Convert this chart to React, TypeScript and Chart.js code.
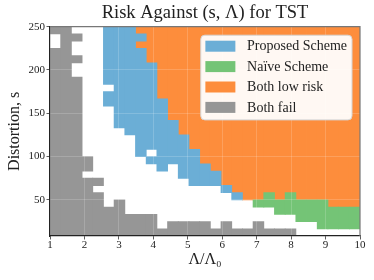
import React, { useEffect, useRef } from "react";
import { Chart, registerables } from "chart.js";

Chart.register(...registerables);

const FONT = "'Liberation Serif', 'DejaVu Serif', serif";

// Outcome classes (white cells = none of these)
const categoryKeys = ["B", "N", "O", "G"];
const categoryLabels = ["Proposed Scheme", "Naïve Scheme", "Both low risk", "Both fail"];
const categoryColors = ["#6baed6", "#74c476", "#fd8d3c", "#969696"];

// Span of the evaluated grid
const lambdaSpan = [1, 10];
const distortionSpan = [8, 250];

// Tick labels
const xTickValues = [1, 2, 3, 4, 5, 6, 7, 8, 9, 10];
const yTickValues = [50, 100, 150, 200, 250];

const titleText = "Risk Against (s, Λ) for TST";
const xTitleText = "Λ/Λ₀";
const yTitleText = "Distortion, s";

// Outcome per grid row (top row = highest distortion), run-length encoded over the Λ columns
const riskRows: [string, number][][] = [
  [["G", 2], ["W", 3], ["B", 3], ["O", 21]],
  [["W", 1], ["G", 2], ["W", 2], ["B", 4], ["O", 20]],
  [["W", 1], ["G", 1], ["W", 3], ["B", 3], ["O", 21]],
  [["G", 2], ["W", 3], ["B", 4], ["O", 20]],
  [["G", 3], ["W", 2], ["B", 4], ["O", 20]],
  [["G", 2], ["W", 3], ["B", 5], ["O", 19]],
  [["G", 2], ["W", 3], ["B", 5], ["O", 19]],
  [["G", 3], ["W", 2], ["B", 5], ["O", 19]],
  [["G", 3], ["W", 3], ["B", 4], ["O", 19]],
  [["G", 3], ["W", 2], ["B", 5], ["O", 19]],
  [["G", 3], ["W", 2], ["B", 6], ["O", 18]],
  [["G", 3], ["W", 3], ["B", 5], ["O", 18]],
  [["G", 3], ["W", 3], ["B", 5], ["O", 18]],
  [["G", 3], ["W", 3], ["B", 6], ["O", 17]],
  [["G", 3], ["W", 4], ["B", 5], ["O", 17]],
  [["G", 3], ["W", 5], ["B", 5], ["O", 16]],
  [["G", 3], ["W", 5], ["B", 5], ["O", 16]],
  [["G", 3], ["W", 5], ["B", 1], ["W", 1], ["B", 4], ["O", 15]],
  [["G", 4], ["W", 5], ["B", 5], ["O", 15]],
  [["G", 4], ["W", 6], ["B", 1], ["W", 1], ["B", 3], ["O", 14]],
  [["G", 3], ["W", 9], ["B", 4], ["O", 13]],
  [["G", 5], ["W", 8], ["B", 3], ["O", 13]],
  [["G", 4], ["W", 12], ["B", 1], ["O", 12]],
  [["G", 5], ["W", 12], ["B", 1], ["O", 2], ["N", 1], ["O", 1], ["N", 1], ["O", 6]],
  [["G", 5], ["W", 1], ["G", 1], ["W", 12], ["N", 7], ["O", 3]],
  [["G", 7], ["W", 14], ["N", 8]],
  [["G", 10], ["W", 13], ["N", 6]],
  [["G", 10], ["W", 1], ["G", 4], ["W", 1], ["G", 1], ["W", 2], ["G", 1], ["W", 5], ["N", 4]],
  [["G", 23], ["W", 6]],
];

function buildDatasets() {
  const grid = riskRows.map((runs) => runs.flatMap(([k, n]) => Array(n).fill(k)));
  const nRows = grid.length;
  const nCols = grid[0].length;
  const dx = (lambdaSpan[1] - lambdaSpan[0]) / nCols;
  const dy = (distortionSpan[1] - distortionSpan[0]) / nRows;
  const sTop = distortionSpan[1];
  return categoryKeys.map((key, i) => {
    const data: { x: number; y: [number, number] }[] = [];
    for (let c = 0; c < nCols; c++) {
      let r = 0;
      while (r < nRows) {
        if (grid[r][c] === key) {
          let r2 = r;
          while (r2 < nRows && grid[r2][c] === key) r2++;
          data.push({ x: lambdaSpan[0] + (c + 0.5) * dx, y: [sTop - r2 * dy, sTop - r * dy] });
          r = r2;
        } else r++;
      }
    }
    return {
      label: categoryLabels[i],
      data,
      backgroundColor: categoryColors[i],
      borderWidth: 0,
      grouped: false,
      barPercentage: 1,
      categoryPercentage: 1,
      inflateAmount: 0.4,
    };
  });
}

const framePlugin = {
  id: "frame",
  afterDraw(chart: any) {
    const { ctx, chartArea } = chart;
    ctx.save();
    ctx.strokeStyle = "#777";
    ctx.lineWidth = 1.2;
    ctx.beginPath();
    ctx.moveTo(chartArea.left, chartArea.top);
    ctx.lineTo(chartArea.right, chartArea.top);
    ctx.lineTo(chartArea.right, chartArea.bottom);
    ctx.stroke();
    ctx.restore();
  },
};

const boxLegendPlugin = {
  id: "boxLegend",
  afterDraw(chart: any) {
    const { ctx, chartArea } = chart;
    const items = chart.data.datasets;
    ctx.save();
    ctx.font = `14px ${FONT}`;
    const patchX = 4.6, patchW = 30, patchH = 11, textX = 46.3, rowH = 20.4, firstRow = 11;
    const textW = Math.max(...items.map((d: any) => ctx.measureText(d.label).width));
    const w = textX + textW + 5;
    const h = firstRow + rowH * (items.length - 1) + 12.5;
    const x0 = chartArea.right - 8 - w;
    const y0 = chartArea.top + 8.5;
    const rad = 4;
    ctx.beginPath();
    ctx.moveTo(x0 + rad, y0);
    ctx.lineTo(x0 + w - rad, y0);
    ctx.quadraticCurveTo(x0 + w, y0, x0 + w, y0 + rad);
    ctx.lineTo(x0 + w, y0 + h - rad);
    ctx.quadraticCurveTo(x0 + w, y0 + h, x0 + w - rad, y0 + h);
    ctx.lineTo(x0 + rad, y0 + h);
    ctx.quadraticCurveTo(x0, y0 + h, x0, y0 + h - rad);
    ctx.lineTo(x0, y0 + rad);
    ctx.quadraticCurveTo(x0, y0, x0 + rad, y0);
    ctx.closePath();
    ctx.fillStyle = "rgba(255,255,255,0.94)";
    ctx.fill();
    ctx.strokeStyle = "#d5d5d5";
    ctx.lineWidth = 1;
    ctx.stroke();
    ctx.textBaseline = "middle";
    ctx.textAlign = "left";
    items.forEach((d: any, i: number) => {
      const cy = y0 + firstRow + i * rowH;
      ctx.fillStyle = d.backgroundColor;
      ctx.fillRect(x0 + patchX, cy - patchH / 2, patchW, patchH);
      ctx.fillStyle = "#222";
      ctx.fillText(d.label, x0 + textX, cy + 0.5);
    });
    ctx.restore();
  },
};

export default function App() {
  const ref = useRef<HTMLCanvasElement | null>(null);
  useEffect(() => {
    if (!ref.current) return;
    const tickFont = { family: FONT, size: 11, lineHeight: 1.1 };
    const chart = new Chart(ref.current, {
      type: "bar",
      data: { datasets: buildDatasets() as any },
      options: {
        animation: false,
        responsive: false,
        devicePixelRatio: 1,
        layout: { padding: { left: 0, right: 14, top: 0, bottom: 0 } },
        plugins: {
          legend: { display: false },
          tooltip: { enabled: false },
          title: {
            display: true,
            text: titleText,
            fullSize: false,
            color: "#222",
            font: { family: FONT, size: 18.5, weight: "normal", lineHeight: 1.2 },
            padding: { top: 2, bottom: 2.5 },
          },
        },
        scales: {
          x: {
            type: "linear",
            min: lambdaSpan[0],
            max: lambdaSpan[1],
            offset: false,
            afterBuildTicks: (s: any) => {
              s.ticks = xTickValues.map((v) => ({ value: v }));
            },
            afterFit: (s: any) => {
              s.height = 44;
            },
            ticks: { font: tickFont, color: "#222", padding: 0, maxRotation: 0, autoSkip: false },
            grid: {
              offset: false,
              color: "rgba(255,255,255,0.22)",
              lineWidth: 0.8,
              tickColor: "#333",
              tickLength: 3.5,
              z: 1,
            },
            border: { color: "#222", width: 1.2, z: 2 },
            title: {
              display: true,
              text: xTitleText,
              color: "#222",
              font: { family: FONT, size: 16, lineHeight: 1.2 },
              padding: { top: 0, bottom: 11 },
            },
          },
          y: {
            type: "linear",
            min: distortionSpan[0],
            max: distortionSpan[1],
            afterBuildTicks: (s: any) => {
              s.ticks = yTickValues.map((v) => ({ value: v }));
            },
            afterFit: (s: any) => {
              s.width = 50;
            },
            ticks: { font: tickFont, color: "#222", padding: 1.5 },
            grid: {
              color: "rgba(255,255,255,0.22)",
              lineWidth: 0.8,
              tickColor: "#333",
              tickLength: 3.5,
              z: 1,
            },
            border: { color: "#222", width: 1.2, z: 2 },
            title: {
              display: true,
              text: yTitleText,
              color: "#222",
              font: { family: FONT, size: 16, lineHeight: 1.8 },
              padding: 0,
            },
          },
        },
      } as any,
      plugins: [framePlugin, boxLegendPlugin],
    });
    return () => chart.destroy();
  }, []);
  return (
    <div style={{ position: "fixed", left: 0, top: 0, width: 374, height: 280, background: "#fff" }}>
      <canvas ref={ref} width={374} height={280} style={{ display: "block", width: 374, height: 280 }} />
    </div>
  );
}
